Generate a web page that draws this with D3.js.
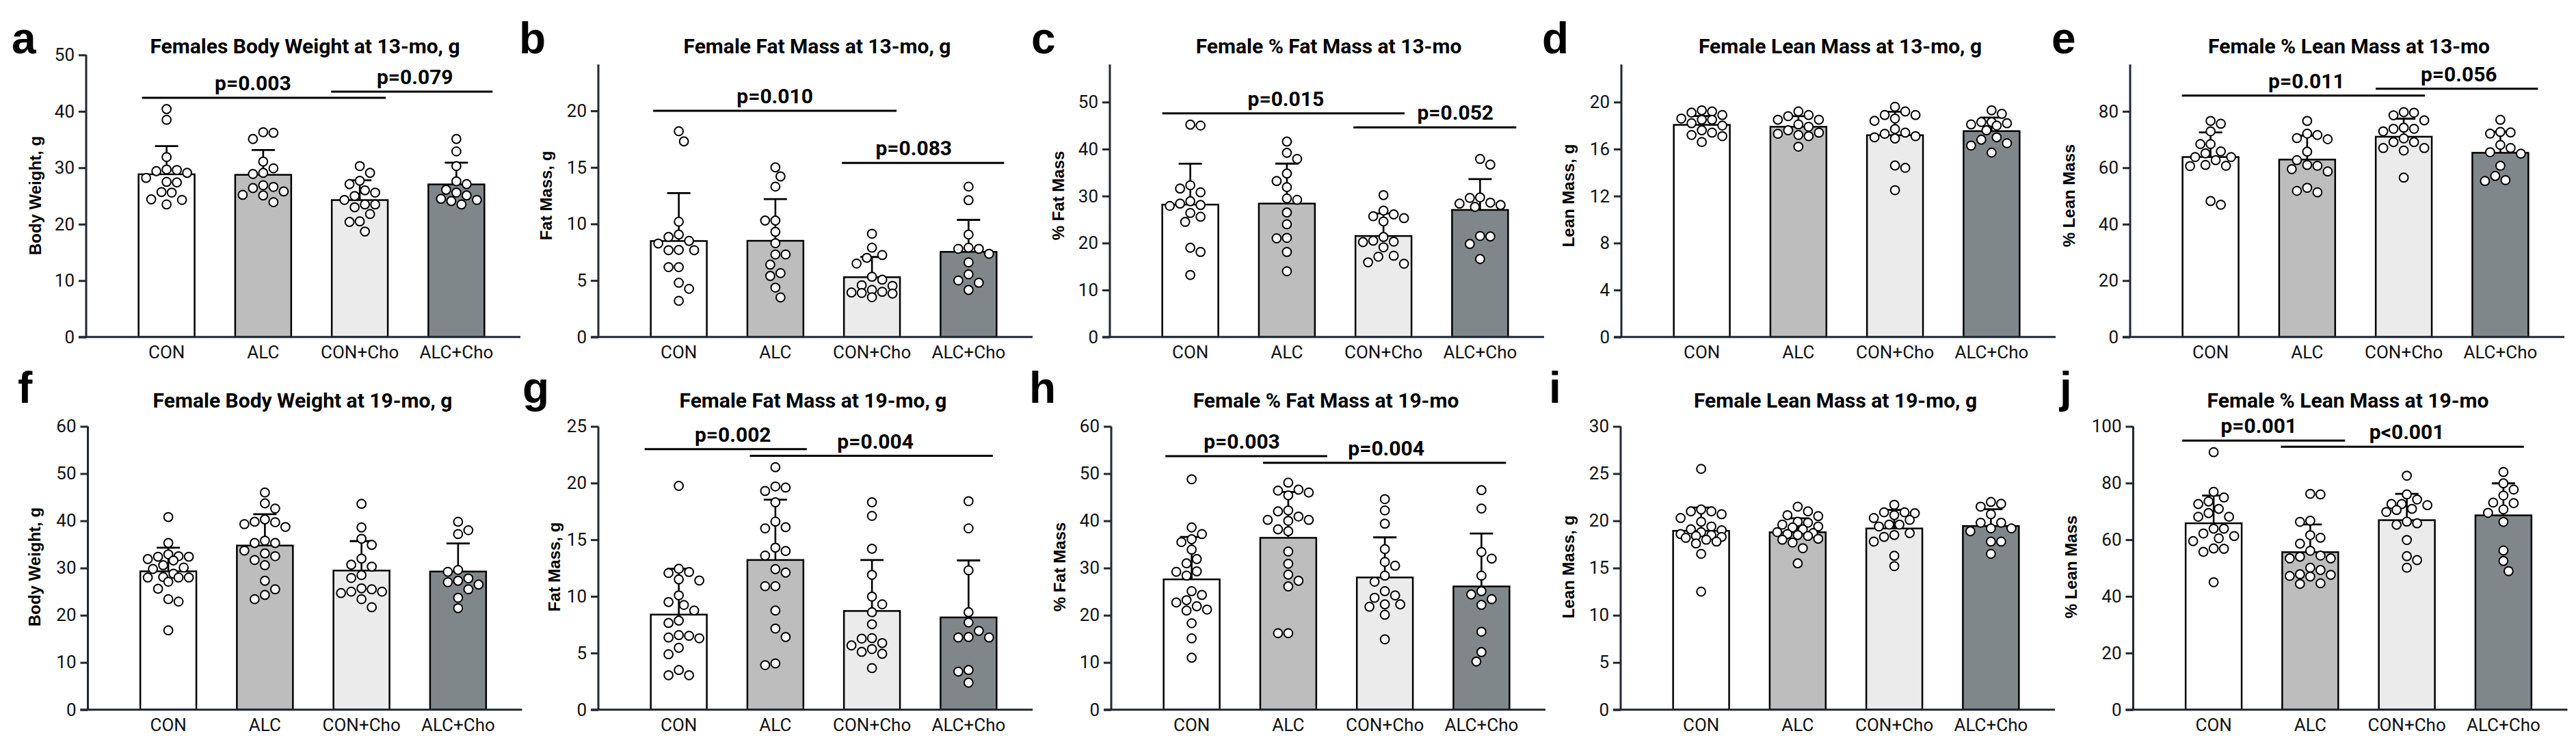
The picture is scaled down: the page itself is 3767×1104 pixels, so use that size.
<!DOCTYPE html>
<html><head><meta charset="utf-8">
<script src="https://cdn.jsdelivr.net/npm/d3@7"></script>
<style>
html,body{margin:0;padding:0;background:#fff;}
svg{display:block;}
</style></head>
<body>
<svg id="chart" width="3767" height="1104"></svg>
<script>
// ---------------- DATA ----------------
const groups = ["CON", "ALC", "CON+Cho", "ALC+Cho"];

const panelLetters = ["a","b","c","d","e","f","g","h","i","j"];
const panelTitles = [
  "Females Body Weight at 13-mo, g", "Female Fat Mass at 13-mo, g", "Female % Fat Mass at 13-mo",
  "Female Lean Mass at 13-mo, g", "Female % Lean Mass at 13-mo",
  "Female Body Weight at 19-mo, g", "Female Fat Mass at 19-mo, g", "Female % Fat Mass at 19-mo",
  "Female Lean Mass at 19-mo, g", "Female % Lean Mass at 19-mo"
];
const yLabels = ["Body Weight, g","Fat Mass, g","% Fat Mass","Lean Mass, g","% Lean Mass",
                 "Body Weight, g","Fat Mass, g","% Fat Mass","Lean Mass, g","% Lean Mass"];
const yMaxes = [50, 24.1, 58, 23.2, 96.6, 60, 25, 60, 30, 100];

const a_ticks = [0,10,20,30,40,50];
const b_ticks = [0,5,10,15,20];
const c_ticks = [0,10,20,30,40,50];
const d_ticks = [0,4,8,12,16,20];
const e_ticks = [0,20,40,60,80];
const f_ticks = [0,10,20,30,40,50,60];
const g_ticks = [0,5,10,15,20,25];
const h_ticks = [0,10,20,30,40,50,60];
const i_ticks = [0,5,10,15,20,25,30];
const j_ticks = [0,20,40,60,80,100];

// a: Body weight 13-mo
const a_mean = [28.84, 28.75, 24.27, 27.05];
const a_sd   = [5.0, 4.4, 3.5, 3.85];
const a_dots = [
  [40.4,38.5,31.9,29.7,29.6,29.4,29.1,28.2,27.5,27.4,25.7,25.6,24.4,24.3,23.5],
  [36.3,36.2,35.1,31.1,29.9,29.1,28.9,26.9,26.6,26.4,25.8,25.2,25.1,23.9],
  [30.3,29.1,27.7,27.1,26.0,25.6,25.0,24.3,23.5,23.5,23.0,21.8,20.5,20.4,18.7],
  [35.1,32.9,30.3,27.6,27.1,26.1,25.6,25.1,24.5,24.3,24.1,23.5]
];
const a_pvals = [["CON","CON+Cho","p=0.003",42.4],["CON+Cho","ALC+Cho","p=0.079",43.5]];

// b: Fat mass 13-mo
const b_mean = [8.49, 8.51, 5.29, 7.53];
const b_sd   = [4.24, 3.69, 1.79, 2.83];
const b_dots = [
  [18.2,17.3,10.2,9.06,8.85,8.5,8.27,7.7,7.68,7.68,6.18,6.18,4.8,4.26,3.2],
  [15.0,14.2,13.3,10.3,10.3,9.3,8.3,7.3,7.3,6.4,5.65,5.4,4.37,3.5],
  [9.13,7.9,7.25,7.0,6.5,5.33,5.07,4.58,4.52,4.16,4.0,3.94,3.9,3.84,3.52],
  [13.3,12.1,9.06,7.9,7.8,7.8,7.36,6.6,5.54,5.0,4.8,4.16]
];
const b_pvals = [["CON","CON+Cho","p=0.010",20.0],["CON+Cho","ALC+Cho","p=0.083",15.4]];

// c: % Fat mass 13-mo
const c_mean = [28.18, 28.4, 21.5, 27.05];
const c_sd   = [8.7, 8.5, 4.8, 6.55];
const c_dots = [
  [45.2,45.0,32.3,31.6,30.8,28.9,28.4,28.1,27.9,26.4,25.6,24.5,19.0,18.1,13.2],
  [41.6,39.2,37.9,34.8,33.2,31.9,29.5,29.2,26.5,24.0,21.1,21.0,18.1,14.0],
  [30.2,26.9,26.1,25.7,25.3,24.6,21.3,20.5,20.3,20.2,19.1,17.3,17.1,15.9,15.6],
  [37.9,36.7,29.7,29.6,28.6,28.4,28.1,27.7,21.5,21.4,19.8,16.6]
];
const c_pvals = [["CON","CON+Cho","p=0.015",47.6],["CON+Cho","ALC+Cho","p=0.052",44.6]];

// d: Lean mass 13-mo
const d_mean = [18.06, 17.9, 17.18, 17.53];
const d_sd   = [0.75, 0.9, 2.0, 1.15];
const d_dots = [
  [19.3,19.2,19.1,18.9,18.6,18.5,18.5,18.2,18.0,17.6,17.4,17.2,17.1,16.6],
  [19.2,18.9,18.8,18.5,18.5,18.1,17.9,17.6,17.4,17.3,17.2,17.1,16.2],
  [19.6,19.2,18.9,18.9,18.6,18.4,17.7,17.4,17.3,17.1,17.0,16.9,14.6,14.4,12.5],
  [19.3,19.0,18.3,18.3,18.2,18.1,18.0,17.6,17.0,16.8,16.5,16.3,15.7]
];
const d_pvals = [];

// e: % Lean mass 13-mo
const e_mean = [63.8, 62.9, 71.0, 65.3];
const e_sd   = [8.7, 8.5, 6.4, 7.5];
const e_dots = [
  [76.6,75.6,72.9,68.4,68.4,65.8,65.1,63.8,63.8,62.7,61.0,60.7,60.6,48.2,46.9],
  [76.6,72.1,71.6,70.5,70.1,65.7,62.7,61.0,60.7,59.5,58.7,52.9,51.8,51.3],
  [79.7,79.5,78.6,76.8,74.2,73.8,73.8,72.9,70.4,69.1,69.1,67.0,67.0,66.1,56.5],
  [77.0,72.7,72.5,72.1,68.1,67.0,65.5,65.0,60.7,57.1,55.6,55.3]
];
const e_pvals = [["CON","CON+Cho","p=0.011",85.6],["CON+Cho","ALC+Cho","p=0.056",88.0]];

// f: Body weight 19-mo
const f_mean = [29.3, 34.76, 29.46, 29.26];
const f_sd   = [5.0, 6.64, 6.24, 5.94];
const f_dots = [
  [40.8,35.3,32.9,32.5,32.4,32.4,31.9,31.6,30.6,30.1,29.8,28.8,28.1,28.0,28.0,28.0,27.1,25.6,23.4,22.9,16.8],
  [46.0,43.7,42.6,40.3,39.8,39.7,39.3,38.7,35.8,35.3,35.3,33.7,33.1,32.5,31.7,30.6,27.3,25.5,24.3,23.4],
  [43.6,38.6,36.2,34.9,32.0,30.7,30.3,28.5,27.9,25.7,25.5,25.0,25.0,24.7,23.4,21.7],
  [39.8,38.0,37.2,29.6,29.2,27.8,27.3,27.0,26.5,25.5,23.7,21.5]
];
const f_pvals = [];

// g: Fat mass 19-mo
const g_mean = [8.39, 13.21, 8.71, 8.14];
const g_sd   = [4.04, 5.33, 4.5, 5.03];
const g_dots = [
  [19.75,12.43,12.15,12.06,11.5,11.4,10.09,9.5,9.24,8.75,7.86,7.65,6.58,6.52,6.37,6.3,5.46,4.89,3.5,3.04,3.04],
  [21.4,19.7,19.6,19.3,18.3,16.6,16.1,16.0,14.3,14.0,13.6,12.4,12.1,10.9,10.9,8.75,7.16,6.41,4.08,3.93],
  [18.3,17.1,14.2,11.9,9.98,9.3,8.6,7.54,6.31,6.27,5.88,5.67,5.35,5.1,4.93,3.67],
  [18.4,16.0,12.3,8.6,7.69,6.95,6.41,6.37,6.37,3.5,3.36,2.38]
];
const g_pvals = [["CON","ALC","p=0.002",23.0],["ALC","ALC+Cho","p=0.004",22.4]];

// h: % Fat mass 19-mo
const h_mean = [27.6, 36.4, 28.0, 26.1];
const h_sd   = [9.0, 9.7, 8.5, 11.2];
const h_dots = [
  [48.8,38.6,37.2,36.1,35.5,33.9,31.9,31.0,29.3,29.2,28.4,25.1,24.3,23.2,22.7,21.9,21.2,21.0,18.3,15.1,11.0],
  [48.1,46.6,46.4,46.0,45.4,42.2,42.0,40.9,40.2,40.2,40.0,38.2,37.8,33.5,30.9,28.6,27.3,26.1,16.2,16.2],
  [44.6,42.2,39.4,34.0,31.3,30.5,28.4,27.1,25.1,24.2,23.7,22.3,22.3,21.8,20.1,14.9],
  [46.5,42.6,33.4,32.0,28.4,25.1,24.4,23.4,22.2,16.5,12.2,10.2]
];
const h_pvals = [["CON","ALC","p=0.003",53.7],["ALC","ALC+Cho","p=0.004",52.3]];

// i: Lean mass 19-mo
const i_mean = [18.94, 18.79, 19.19, 19.45];
const i_sd   = [2.47, 1.48, 1.97, 1.78];
const i_dots = [
  [25.5,21.2,21.0,21.0,20.7,20.3,19.9,19.4,19.1,19.0,18.8,18.6,18.5,18.4,18.3,18.2,18.0,17.8,17.6,16.5,12.5],
  [21.5,21.0,20.6,20.5,19.9,19.8,19.6,19.4,19.3,19.1,18.8,18.7,18.6,18.5,18.4,18.1,18.0,17.7,17.1,15.5],
  [21.7,20.9,20.9,20.8,20.6,20.3,20.1,19.6,19.6,19.4,18.7,18.5,18.3,17.8,16.3,15.2],
  [22.0,21.8,21.5,20.7,19.8,19.8,19.2,19.2,18.9,17.8,17.8,16.5]
];
const i_pvals = [];

// j: % Lean mass 19-mo
const j_mean = [65.8, 55.6, 66.9, 68.6];
const j_sd   = [9.8, 9.8, 9.3, 11.3];
const j_dots = [
  [90.9,76.9,74.9,73.5,72.6,70.9,69.4,68.1,68.1,63.9,63.9,62.2,61.3,60.5,59.5,56.9,56.8,55.7,45.0],
  [76.2,76.0,66.7,66.3,61.6,60.7,58.6,56.1,54.4,54.0,53.4,53.4,50.1,49.3,47.8,47.6,47.2,47.0,44.6,44.4],
  [82.6,76.0,74.2,72.6,72.6,72.2,70.9,70.5,69.8,66.4,65.8,65.3,59.9,54.2,52.8,50.1],
  [83.9,79.9,77.7,75.6,73.1,72.9,70.7,69.5,66.3,56.2,52.5,48.9]
];
const j_pvals = [["CON","ALC","p=0.001",95.0],["ALC","ALC+Cho","p<0.001",92.8]];

const panelTicks = [a_ticks,b_ticks,c_ticks,d_ticks,e_ticks,f_ticks,g_ticks,h_ticks,i_ticks,j_ticks];
const panelMeans = [a_mean,b_mean,c_mean,d_mean,e_mean,f_mean,g_mean,h_mean,i_mean,j_mean];
const panelSDs   = [a_sd,b_sd,c_sd,d_sd,e_sd,f_sd,g_sd,h_sd,i_sd,j_sd];
const panelDots  = [a_dots,b_dots,c_dots,d_dots,e_dots,f_dots,g_dots,h_dots,i_dots,j_dots];
const panelPvals = [a_pvals,b_pvals,c_pvals,d_pvals,e_pvals,f_pvals,g_pvals,h_pvals,i_pvals,j_pvals];

// ---------------- LAYOUT / STYLE ----------------
const groupFill = ["#ffffff", "#bdbdbd", "#ebebeb", "#80878a"];
const axisColor = "#1f2833";
const rowZero = [492.8, 1037.7];
const rowTop = [[80.3, 94.3, 94.3, 94.3, 94.3], [623.5, 623.5, 623.5, 623.5, 623.5]];
const axisXs = [[126, 875, 1623, 2371, 3115], [128.5, 875, 1625, 2370, 3119.5]];
const ylabelDx = [[-75, -77, -76, -78, -90], [-78, -65, -76, -77, -91]];
const ylabelCy = [286, 829];
const letterX = [[17, 759, 1508, 2255, 3000], [26, 764, 1505, 2265, 3012]];
const letterBase = [77.5, 589];
const titleBase = [77.5, 596];
const titleDx = [320, 314];
// per-annotation nudges: [dx start, dx end, dx text]
const pNudge = {
  a: [[5, -3, -16], [-1, 12, 4.5]],
  b: [[3.5, -5, 0], [-3, 11, -13.5]],
  c: [[0, -10, 3.5], [-3, 12, 30]],
  e: [[-1, -10, 4.5], [0, 14, 3]],
  g: [[-9, 5, 10.5], [3.6, -5.5, 6]],
  h: [[2.5, 16, -6.5], [4, -5, 2.5]],
  j: [[-5, 10, -7], [-2, -11, 6.5]]
};

const svg = d3.select("#chart");
svg.append("rect").attr("width", 3767).attr("height", 1104).attr("fill", "#fff");

// scatter layout: keep dots apart where room allows, limit spread to the bar width,
// and accept partial overlap (as Prism does) when the cluster is dense
function swarm(vals, y, STEP, MIN, MAXDX) {
  const sorted = vals.slice().sort((p, q) => q - p);
  const placed = [];
  let flip = 1;
  for (const v of sorted) {
    const py = y(v);
    const cands = [0];
    for (let k = 1; k * STEP <= MAXDX; k++) cands.push(flip * k * STEP, -flip * k * STEP);
    let chosen = null, bestD = -1, bestDx = 0;
    for (const dx of cands) {
      const dmin = placed.length ? Math.min(...placed.map(p => Math.hypot(p.dx - dx, p.y - py))) : Infinity;
      if (dmin >= MIN) { chosen = dx; break; }
      if (dmin > bestD + 0.5) { bestD = dmin; bestDx = dx; }
    }
    if (chosen === null) chosen = bestDx;
    if (chosen !== 0) flip = -Math.sign(chosen);
    placed.push({ v, dx: chosen, y: py });
  }
  return placed;
}

panelLetters.forEach((letter, idx) => {
  const row = idx < 5 ? 0 : 1;
  const col = idx % 5;
  const ax = axisXs[row][col];
  const zeroY = rowZero[row];
  const topY = rowTop[row][col];
  const g = svg.append("g");

  const y = d3.scaleLinear().domain([0, yMaxes[idx]]).range([zeroY, topY]);
  const x = d3.scaleBand().domain(groups).range([ax + 47, ax + 612]).paddingInner(0.42).paddingOuter(0.21);
  const bw = x.bandwidth();

  g.append("text").attr("x", letterX[row][col]).attr("y", letterBase[row])
    .attr("font-family", "Liberation Sans, Arial, sans-serif").attr("font-weight", "bold")
    .attr("font-size", 64).attr("fill", "#000").text(letter);

  g.append("text").attr("x", ax + titleDx[row]).attr("y", titleBase[row])
    .attr("text-anchor", "middle").attr("font-family", "Roboto, sans-serif").attr("font-weight", "bold")
    .attr("font-size", 30).attr("fill", "#000").text(panelTitles[idx]);

  g.append("text").attr("transform", `translate(${ax + ylabelDx[row][col]},${ylabelCy[row]}) rotate(-90)`)
    .attr("text-anchor", "middle").attr("dominant-baseline", "central")
    .attr("font-family", "Liberation Sans, Arial, sans-serif").attr("font-weight", "bold")
    .attr("font-size", 24).attr("fill", "#000").text(yLabels[idx]);

  const means = panelMeans[idx], sds = panelSDs[idx], dots = panelDots[idx];
  g.selectAll("rect.bar").data(groups).enter().append("rect").attr("class", "bar")
    .attr("x", d => x(d)).attr("y", (d, i) => y(means[i]))
    .attr("width", bw).attr("height", (d, i) => zeroY - y(means[i]))
    .attr("fill", (d, i) => groupFill[i]).attr("stroke", "#000").attr("stroke-width", 2.5);

  groups.forEach((gr, i) => {
    const cx = x(gr) + bw / 2;
    const y0 = y(means[i]), y1 = y(means[i] + sds[i]);
    g.append("line").attr("x1", cx).attr("x2", cx).attr("y1", y0).attr("y2", y1)
      .attr("stroke", "#000").attr("stroke-width", 2.6);
    g.append("line").attr("x1", cx - 17).attr("x2", cx + 17).attr("y1", y1).attr("y2", y1)
      .attr("stroke", "#000").attr("stroke-width", 2.8);
  });

  groups.forEach((gr, i) => {
    const cx = x(gr) + bw / 2;
    const pts = swarm(dots[i], y, 7.5, 15, 34);
    g.selectAll(null).data(pts).enter().append("circle")
      .attr("cx", p => cx + p.dx).attr("cy", p => p.y).attr("r", 6.4)
      .attr("fill", "#fff").attr("stroke", "#000").attr("stroke-width", 2);
  });

  const yAxis = d3.axisLeft(y).tickValues(panelTicks[idx]).tickSize(11).tickSizeOuter(0).tickPadding(6)
    .tickFormat(d3.format("d"));
  const gy = g.append("g").attr("transform", `translate(${ax},0)`).call(yAxis);
  gy.select(".domain").attr("stroke", axisColor).attr("stroke-width", 3)
    .attr("d", `M0,${zeroY}V${topY}`);
  gy.selectAll(".tick line").attr("stroke", axisColor).attr("stroke-width", 3);
  gy.selectAll(".tick text").attr("font-family", "Roboto, sans-serif").attr("font-size", 26).attr("fill", "#111");

  g.append("line").attr("x1", ax - 11).attr("x2", ax + 635).attr("y1", zeroY).attr("y2", zeroY)
    .attr("stroke", axisColor).attr("stroke-width", 3);
  const xAxis = d3.axisBottom(x).tickSize(0).tickPadding(13);
  const gx = g.append("g").attr("transform", `translate(0,${zeroY})`).call(xAxis);
  gx.select(".domain").remove();
  gx.selectAll(".tick text").attr("font-family", "Roboto, sans-serif").attr("font-size", 26).attr("fill", "#111");

  panelPvals[idx].forEach((pv, k) => {
    const nud = (pNudge[letter] || [])[k] || [0, 0, 0];
    const x1 = x(pv[0]) + nud[0];
    const x2 = x(pv[1]) + bw + nud[1];
    const ly = y(pv[3]);
    g.append("line").attr("x1", x1).attr("x2", x2).attr("y1", ly).attr("y2", ly)
      .attr("stroke", "#000").attr("stroke-width", 3);
    g.append("text").attr("x", (x1 + x2) / 2 + nud[2]).attr("y", ly - 11)
      .attr("text-anchor", "middle").attr("font-family", "Roboto, sans-serif").attr("font-weight", "bold")
      .attr("font-size", 30).attr("fill", "#000").text(pv[2]);
  });
});
</script>
</body></html>
